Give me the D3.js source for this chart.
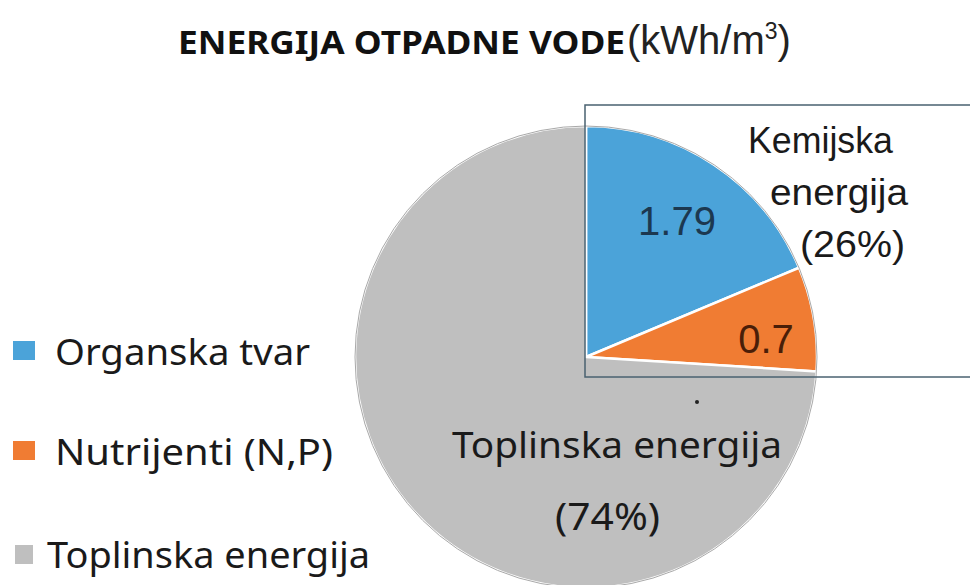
<!DOCTYPE html>
<html>
<head>
<meta charset="utf-8">
<script src="https://cdn.jsdelivr.net/npm/d3@7"></script>
<style>
  body { margin: 0; background: #fff; }
  svg { display: block; }
</style>
</head>
<body>
<div id="chart"></div>
<script>
// data
var categories = ["Organska tvar", "Nutrijenti (N,P)", "Toplinska energija"];
var values = [1.79, 0.7, 7.09];
var colors = ["#4ba3d9", "#f07c33", "#bfbfbf"];
var sliceLabels = ["1.79", "0.7"];
var groupLabel = ["Kemijska", "energija", "(26%)"];
var heatLabel = ["Toplinska energija", "(74%)"];

var width = 970;
var height = 585;
var cx = 586, cy = 357, radius = 231;
var calibri = "Noto Sans, Open Sans, sans-serif";
var arial = "Liberation Sans, Arial, sans-serif";

var svg = d3.select("#chart")
    .append("svg")
    .attr("width", width)
    .attr("height", height);

// title
svg.append("text")
    .attr("x", 178)
    .attr("y", 54)
    .attr("font-family", calibri)
    .attr("font-weight", "bold")
    .attr("font-size", 32)
    .attr("fill", "#111")
    .attr("textLength", 447)
    .attr("lengthAdjust", "spacingAndGlyphs")
    .text("ENERGIJA OTPADNE VODE");
var unit = svg.append("text")
    .attr("x", 627)
    .attr("y", 54)
    .attr("font-family", arial)
    .attr("fill", "#222");
unit.append("tspan").attr("font-size", 40).text("(kWh/m");
unit.append("tspan").attr("font-size", 23).attr("dy", -15).text("3");
unit.append("tspan").attr("font-size", 40).attr("dy", 15).text(")");

// pie
var pie = d3.pie().sort(null).startAngle(0).endAngle(2 * Math.PI);
var arc = d3.arc().innerRadius(0).outerRadius(radius);
var arcs = pie(values);

var g = svg.append("g")
    .attr("transform", "translate(" + cx + "," + cy + ")");

g.selectAll("path")
    .data(arcs)
    .enter()
    .append("path")
    .attr("d", arc)
    .attr("fill", function(d, i) { return colors[i]; })
    .attr("stroke", "#fff")
    .attr("stroke-width", 2.5)
    .attr("stroke-linejoin", "round");

// soft outer rim
g.append("circle")
    .attr("r", radius)
    .attr("fill", "none")
    .attr("stroke", "#a9a9a9")
    .attr("stroke-width", 1);

// inset box around chemical energy
svg.append("rect")
    .attr("x", 585)
    .attr("y", 105)
    .attr("width", 400)
    .attr("height", 272)
    .attr("fill", "none")
    .attr("stroke", "#4a6270")
    .attr("stroke-width", 1.5);

// slice value labels
var labelPos = [[91, -122], [180, -4]];
var labelColors = ["#1c3850", "#4a1e08"];
g.selectAll(".val")
    .data(arcs.slice(0, 2))
    .enter()
    .append("text")
    .attr("class", "val")
    .attr("x", function(d, i) { return labelPos[i][0]; })
    .attr("y", function(d, i) { return labelPos[i][1]; })
    .attr("text-anchor", "middle")
    .attr("font-family", arial)
    .attr("font-size", 40)
    .attr("fill", function(d, i) { return labelColors[i]; })
    .text(function(d, i) { return sliceLabels[i]; });

// group label
var grpX = [748, 770, 800];
var grpY = [153, 205, 257];
var grpW = [145, 138, 105];
svg.selectAll(".grp")
    .data(groupLabel)
    .enter()
    .append("text")
    .attr("class", "grp")
    .attr("x", function(d, i) { return grpX[i]; })
    .attr("y", function(d, i) { return grpY[i]; })
    .attr("font-family", arial)
    .attr("font-size", 36)
    .attr("fill", "#1a1a1a")
    .attr("textLength", function(d, i) { return grpW[i]; })
    .attr("lengthAdjust", "spacingAndGlyphs")
    .text(function(d) { return d; });

// heat label
svg.append("text")
    .attr("x", 452)
    .attr("y", 458)
    .attr("font-family", calibri)
    .attr("font-size", 37)
    .attr("fill", "#1a1a1a")
    .attr("textLength", 330)
    .attr("lengthAdjust", "spacingAndGlyphs")
    .text(heatLabel[0]);
svg.append("text")
    .attr("x", 555)
    .attr("y", 530)
    .attr("font-family", calibri)
    .attr("font-size", 38)
    .attr("fill", "#1a1a1a")
    .attr("textLength", 105)
    .attr("lengthAdjust", "spacingAndGlyphs")
    .text(heatLabel[1]);
svg.append("circle")
    .attr("cx", 697)
    .attr("cy", 402)
    .attr("r", 2)
    .attr("fill", "#222");

// legend
var legendY = [365, 465, 568];
var legendW = [255, 278, 323];
var legend = svg.selectAll(".leg")
    .data(categories)
    .enter()
    .append("g")
    .attr("class", "leg")
    .attr("transform", function(d, i) { return "translate(0," + legendY[i] + ")"; });
legend.append("rect")
    .attr("x", function(d, i) { return i === 2 ? 15 : 13; })
    .attr("y", function(d, i) { return i === 2 ? -23 : -24; })
    .attr("width", function(d, i) { return i === 2 ? 18 : 22; })
    .attr("height", 19)
    .attr("fill", function(d, i) { return colors[i]; });
legend.append("text")
    .attr("x", function(d, i) { return i === 2 ? 47 : 55; })
    .attr("y", 0)
    .attr("font-family", calibri)
    .attr("font-size", 36)
    .attr("fill", "#1a1a1a")
    .attr("textLength", function(d, i) { return legendW[i]; })
    .attr("lengthAdjust", "spacingAndGlyphs")
    .text(function(d) { return d; });
</script>
</body>
</html>
